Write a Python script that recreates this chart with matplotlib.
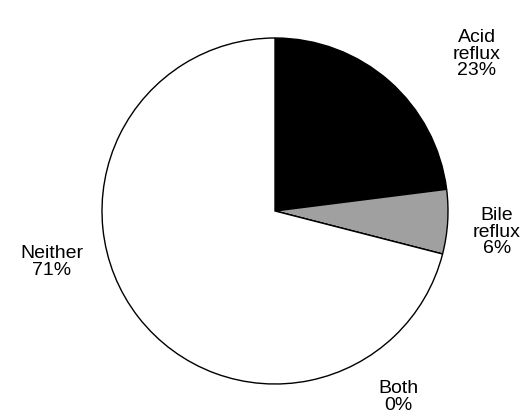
import numpy as np
import matplotlib.pyplot as plt

categories = ['Acid\nreflux', 'Bile\nreflux', 'Both', 'Neither']
percents = [23, 6, 0, 71]
colors = ['black', '#a0a0a0', 'white', 'white']

fig = plt.figure(figsize=(5.25, 4.19), dpi=100)
ax = fig.add_axes([0, 0, 1, 1])

# pixel geometry of the reference: centre (275, 211), radius 173 px
r_px = 173.0
cx, cy = 275.0, 211.0

wedges, _ = ax.pie(percents, colors=colors, startangle=90, counterclock=False,
                   radius=1, center=(0, 0),
                   wedgeprops=dict(edgecolor='black', linewidth=1.0))

ax.set_xlim(-cx / r_px, (525 - cx) / r_px)
ax.set_ylim(-(419 - cy) / r_px, cy / r_px)
ax.set_aspect('equal')
ax.axis('off')

# label positions (pixels in the reference image)
label_pos = [(477, 54), (497, 232), (398, 397), (52, 262)]
for cat, pct, (px, py) in zip(categories, percents, label_pos):
    ax.text((px - cx) / r_px, (cy - py) / r_px, f'{cat}\n{pct}%',
            ha='center', va='center', fontsize=14, linespacing=0.95,
            family=['Liberation Sans', 'DejaVu Sans'])

fig.savefig('out.png', dpi=100)
